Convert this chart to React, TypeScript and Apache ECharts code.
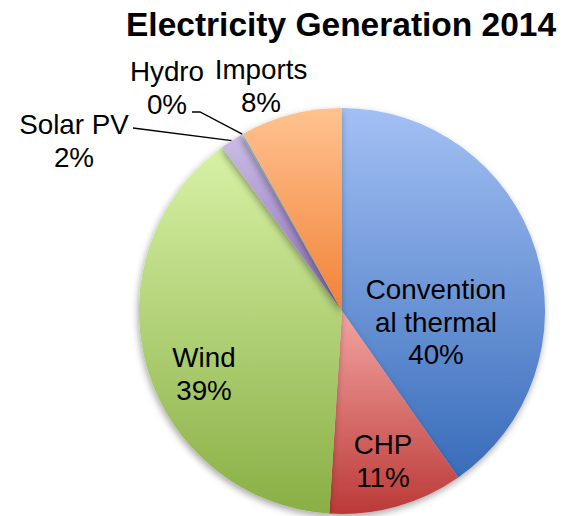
import React, { useEffect, useRef } from "react";
import * as echarts from "echarts";

const TITLE = "Electricity Generation 2014";

const sources = ["Conventional thermal", "CHP", "Wind", "Solar PV", "Hydro", "Imports"];
const shares = [40.3, 10.7, 38.95, 1.8, 0.15, 8.1];

// light (top) and dark (bottom) stop of each slice's vertical gradient
const topColors = ["#a3c0f4", "#f3a4a2", "#d7f2a6", "#cbbde6", "#b4dbe8", "#ffc290"];
const bottomColors = ["#386cba", "#bb3a37", "#8aaf45", "#8a6cb8", "#4a9cba", "#f28236"];

// centre of each label block
const labelSpots: [number, number][] = [
  [436, 322],
  [383, 461],
  [204, 374],
  [74, 141],
  [167, 88],
  [261, 86],
];

// leader line bends for the two small outside slices
const leaderBends: Record<number, [number, number][]> = {
  3: [[133, 128], [133, 128]],
  4: [[200, 112], [192, 112]],
};

const FONT = "'Liberation Sans', Arial, Helvetica, sans-serif";

export default function App() {
  const ref = useRef<HTMLDivElement>(null);

  useEffect(() => {
    if (!ref.current) return;
    const chart = echarts.init(ref.current, null, { renderer: "svg" });

    const data = sources.map((name, i) => {
      const outside = i >= 3;
      return {
        name,
        value: shares[i],
        itemStyle: {
          color: new echarts.graphic.LinearGradient(0, 0, 0, 1, [
            { offset: 0, color: topColors[i] },
            { offset: 1, color: bottomColors[i] },
          ]),
        },
        label: {
          position: outside ? "outside" : "inside",
          ...(i === 0 ? { width: 152, overflow: "breakAll" } : { overflow: "none" }),
        },
        labelLine: {
          show: i === 3 || i === 4,
          lineStyle: { color: "#000", width: 1.3 },
        },
      };
    });

    chart.setOption({
      animation: false,
      backgroundColor: "#ffffff",
      title: {
        text: TITLE,
        left: 121,
        top: 2,
        textStyle: {
          fontFamily: FONT,
          fontSize: 33.5,
          fontWeight: "bold",
          color: "#000",
        },
      },
      series: [
        {
          type: "pie",
          center: [342, 311],
          radius: 203,
          startAngle: 90,
          clockwise: true,
          avoidLabelOverlap: false,
          percentPrecision: 0,
          itemStyle: {
            borderWidth: 0,
            shadowBlur: 7,
            shadowColor: "rgba(0,0,0,0.35)",
            shadowOffsetX: -1,
            shadowOffsetY: 3,
          },
          label: {
            formatter: "{b}\n{d}%",
            fontFamily: FONT,
            fontSize: 27.8,
            lineHeight: 32.5,
            color: "#000",
            align: "center",
          },
          labelLayout: (params: any) => {
            const i = params.dataIndex;
            const [x, y] = labelSpots[i];
            const out: any = { x, y, align: "center", verticalAlign: "middle" };
            const bends = leaderBends[i];
            if (bends && params.labelLinePoints && params.labelLinePoints[0]) {
              out.labelLinePoints = [params.labelLinePoints[0], ...bends];
            }
            return out;
          },
          emphasis: { disabled: true },
          data,
        },
      ],
    });

    return () => chart.dispose();
  }, []);

  return (
    <div
      ref={ref}
      style={{ position: "fixed", left: 0, top: 0, width: 563, height: 516 }}
    />
  );
}
